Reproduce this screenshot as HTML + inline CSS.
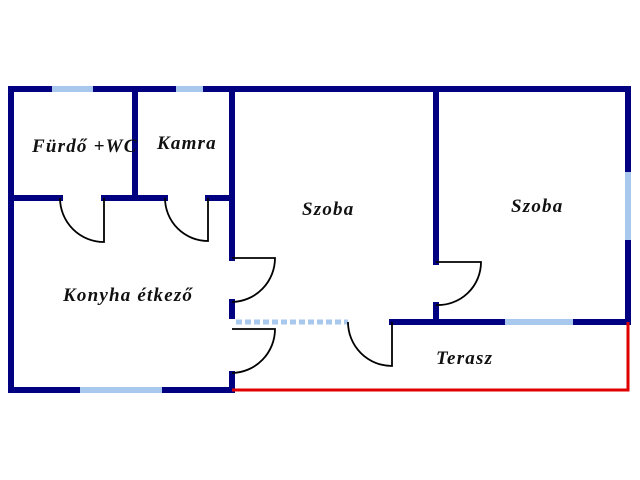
<!DOCTYPE html>
<html><head><style>body{margin:0;background:#fff}svg{display:block}text{font-family:"Liberation Serif",serif;font-weight:bold;font-style:italic;font-size:19px;letter-spacing:1.2px;fill:#111}</style></head><body>
<svg width="640" height="480" xmlns="http://www.w3.org/2000/svg">
<g stroke="#000080" stroke-width="6" fill="none" stroke-linecap="square">
<path d="M11 89H628V322"/>
<path d="M11 89V390H232"/>
<path d="M135 89V198"/>
<path d="M11 198H60M104 198H165M208 198H232"/>
<path d="M232 89V258M232 302V316M232 374V390"/>
<path d="M436 89V262M436 305V322"/>
<path d="M392 322H628"/>
</g>
<g stroke="#a8c8ee" stroke-width="6">
<path d="M52 89H93M176 89H203M80 390H162M505 322H573M628 172V240"/>
</g>
<path d="M236 322H348" stroke="#a8c8ee" stroke-width="5" stroke-dasharray="6 3"/>
<path d="M232 390H628V322" stroke="#e00000" stroke-width="3" fill="none"/>
<g stroke="#000" stroke-width="1.8" fill="none">
<path d="M60 198A44 44 0 0 0 104 242V198"/>
<path d="M165 198A43 43 0 0 0 208 241V198"/>
<path d="M232 258H275A44 44 0 0 1 232 302"/>
<path d="M232 329H275A44 44 0 0 1 232 373"/>
<path d="M436 262H481A43 43 0 0 1 436 305"/>
<path d="M348 322A44 44 0 0 0 392 366V322"/>
</g>
<text x="32" y="152">Fürdő +WC</text>
<text x="157" y="149">Kamra</text>
<text x="302" y="215">Szoba</text>
<text x="511" y="212">Szoba</text>
<text x="63" y="301">Konyha étkező</text>
<text x="436" y="364">Terasz</text>
</svg>
</body></html>
